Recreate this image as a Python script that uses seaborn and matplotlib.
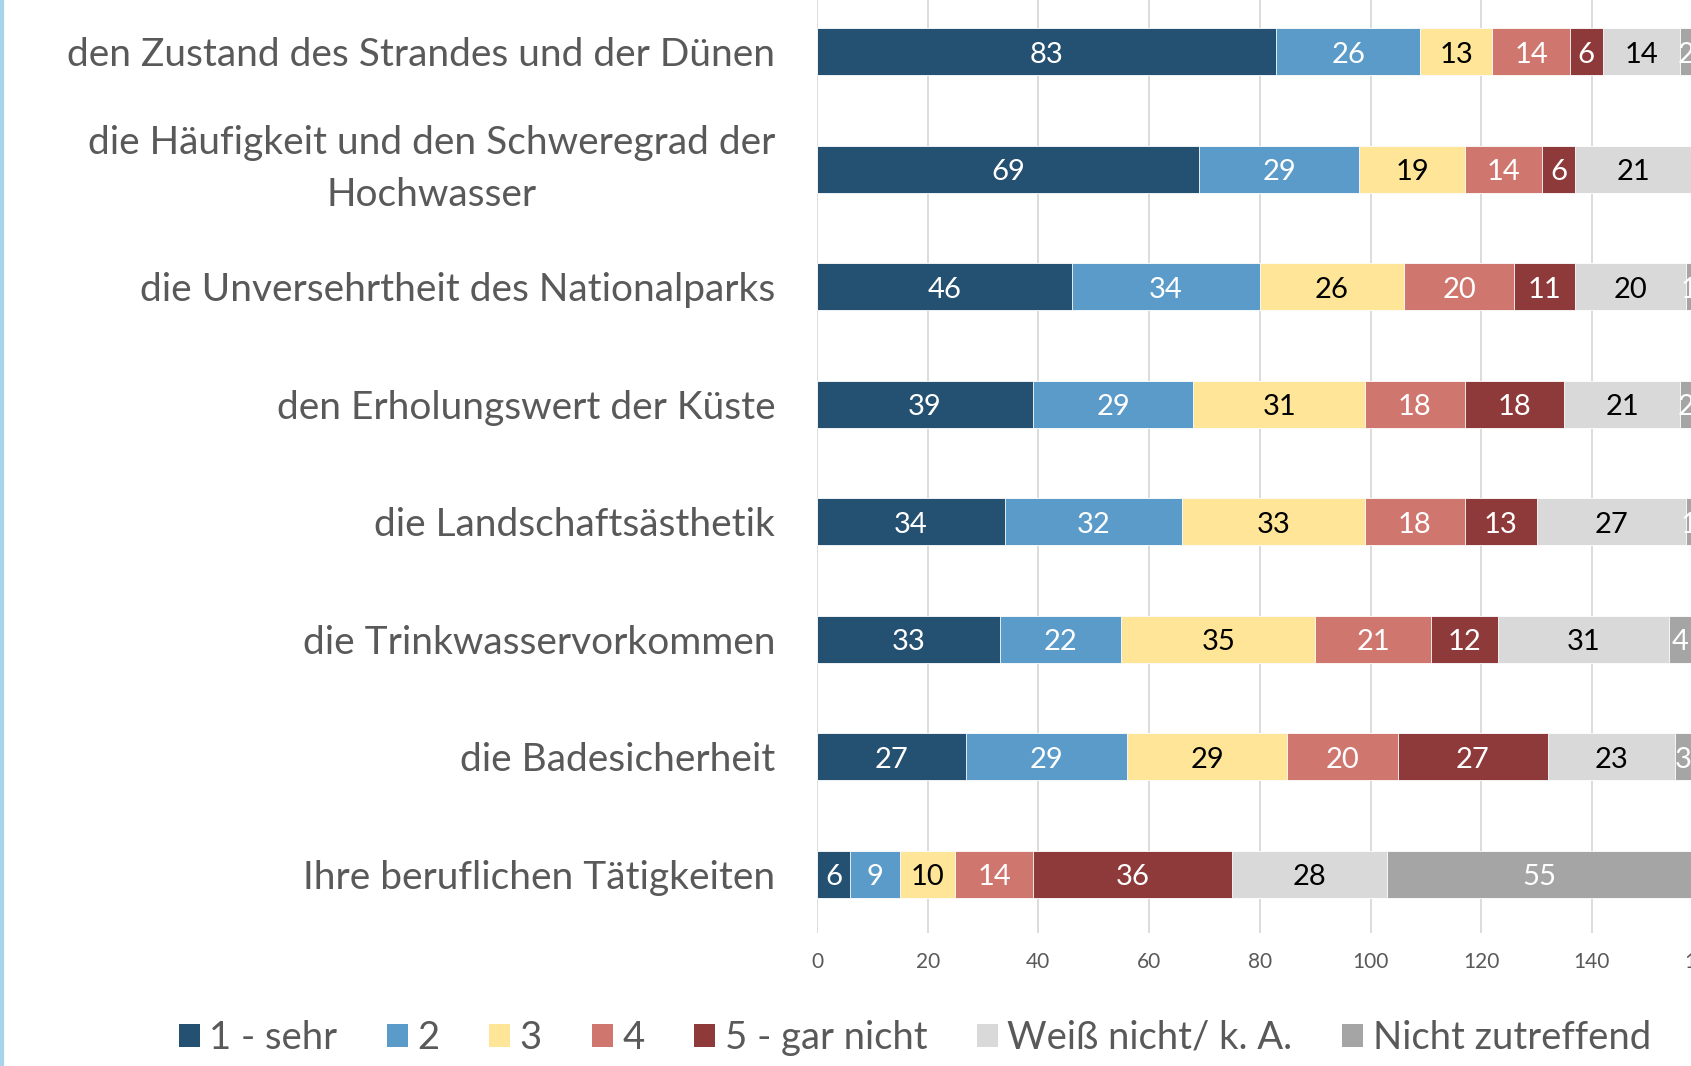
import numpy as np
import pandas as pd
import matplotlib.pyplot as plt
import seaborn as sns
from matplotlib.patches import Patch
from matplotlib.lines import Line2D

# Kategorien (von oben nach unten)
kategorien = [
    "den Zustand des Strandes und der Dünen",
    "die Häufigkeit und den Schweregrad der\nHochwasser",
    "die Unversehrtheit des Nationalparks",
    "den Erholungswert der Küste",
    "die Landschaftsästhetik",
    "die Trinkwasservorkommen",
    "die Badesicherheit",
    "Ihre beruflichen Tätigkeiten",
]

serien = ["1 - sehr", "2", "3", "4", "5 - gar nicht", "Weiß nicht/ k. A.", "Nicht zutreffend"]

sehr = [83, 69, 46, 39, 34, 33, 27, 6]
zwei = [26, 29, 34, 29, 32, 22, 29, 9]
drei = [13, 19, 26, 31, 33, 35, 29, 10]
vier = [14, 14, 20, 18, 18, 21, 20, 14]
gar_nicht = [6, 6, 11, 18, 13, 12, 27, 36]
weiss_nicht = [14, 21, 20, 21, 27, 31, 23, 28]
nicht_zutreffend = [2, 0, 1, 2, 1, 4, 3, 55]

farben = ["#245071", "#5A9BC9", "#FFE597", "#CF766F", "#8F3A3A", "#D9D9D9", "#A5A5A5"]
textfarben = ["white", "white", "black", "white", "white", "black", "white"]

werte = [sehr, zwei, drei, vier, gar_nicht, weiss_nicht, nicht_zutreffend]
df = pd.DataFrame(dict(zip(serien, werte)), index=kategorien)
kum = df.cumsum(axis=1)

sns.set_theme(style="white")
plt.rcParams['font.family'] = ['Lato', 'DejaVu Sans']

fig = plt.figure(figsize=(16.91, 10.66), dpi=100)
ax = fig.add_axes([817 / 1691, (1066 - 933) / 1066, 160 * 5.535 / 1691, 940 / 1066])

# gestapelte Balken: kumulierte Summen von rechts nach links übereinander zeichnen
for i in range(len(serien) - 1, -1, -1):
    s = serien[i]
    d = pd.DataFrame({"kat": kategorien, "wert": kum[s].values})
    sns.barplot(data=d, y="kat", x="wert", orient="h", color=farben[i],
                width=0.4, ax=ax, saturation=1, edgecolor="white", linewidth=0.6, zorder=2)

# Datenbeschriftungen
for i, s in enumerate(serien):
    links = kum[s].values - df[s].values
    for j, v in enumerate(df[s].values):
        if v == 0:
            continue
        ax.text(links[j] + v / 2, j + 0.025, str(v), ha="center", va="center",
                fontsize=21, color=textfarben[i], zorder=3)

ax.set_xlim(0, 160)
ax.set_ylim(7.5, -0.5)
ax.set_xticks(np.arange(0, 161, 20))
ax.grid(axis="x", color="#D9D9D9", linewidth=1.3, zorder=0)
ax.set_axisbelow(True)
ax.set_xlabel("")
ax.set_ylabel("")
sns.despine(ax=ax, left=True, bottom=True)
ax.tick_params(axis="x", labelsize=15, labelcolor="#595959", length=0, pad=14)
ax.tick_params(axis="y", labelsize=28, labelcolor="#595959", length=0, pad=30)
for lab in ax.get_yticklabels():
    lab.set_multialignment("center")
    if "\n" in lab.get_text():
        lab.set_linespacing(1.55)
        lab.set_verticalalignment("center")

# Legende
handles = [Patch(facecolor=farben[i], edgecolor="none", label=s) for i, s in enumerate(serien)]
leg = fig.legend(handles=handles, loc="center", bbox_to_anchor=(0.541, 1 - 1038 / 1066),
                 ncol=7, frameon=False, fontsize=27.5, handlelength=0.55, handleheight=0.55,
                 handletextpad=0.25, columnspacing=1.3, labelcolor="#595959")

# hellblaue Linie am linken Rand
fig.add_artist(Line2D([0.001, 0.001], [0, 1], color="#A9D3EA", linewidth=3, transform=fig.transFigure))

fig.savefig("out.png", dpi=100)
